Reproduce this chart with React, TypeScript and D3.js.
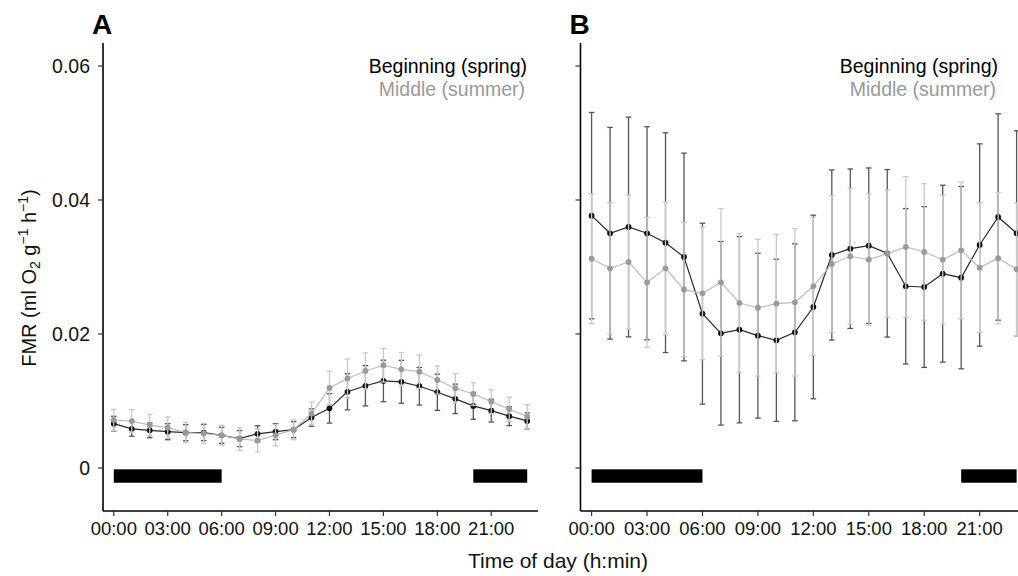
import React from "react";
import * as d3 from "d3";

const hours = [0, 1, 2, 3, 4, 5, 6, 7, 8, 9, 10, 11, 12, 13, 14, 15, 16, 17, 18, 19, 20, 21, 22, 23];
const xTicks = [0, 3, 6, 9, 12, 15, 18, 21];
const xTickLabels = ["00:00", "03:00", "06:00", "09:00", "12:00", "15:00", "18:00", "21:00"];
const yTicks = [0, 0.02, 0.04, 0.06];
const yTickLabels = ["0", "0.02", "0.04", "0.06"];

const springA = [0.00662, 0.00585, 0.00562, 0.00542, 0.00527, 0.00528, 0.00488, 0.00438, 0.0051, 0.00542, 0.00572, 0.00753, 0.0089, 0.01137, 0.01227, 0.01299, 0.01286, 0.0122, 0.0113, 0.01032, 0.00927, 0.00856, 0.00773, 0.00703];
const seSpringA = [0.0011, 0.0011, 0.0011, 0.0012, 0.0012, 0.0012, 0.0012, 0.0012, 0.0012, 0.0012, 0.0012, 0.0013, 0.0022, 0.0027, 0.003, 0.0031, 0.0032, 0.0028, 0.0027, 0.0022, 0.002, 0.0017, 0.0014, 0.0012];
const summerA = [0.00716, 0.007, 0.0064, 0.00602, 0.0053, 0.00515, 0.00488, 0.00433, 0.0041, 0.0049, 0.00572, 0.00813, 0.01195, 0.01336, 0.01448, 0.01533, 0.01473, 0.01438, 0.01313, 0.0119, 0.01104, 0.0099, 0.00876, 0.00766];
const seSummerA = [0.0016, 0.0017, 0.0016, 0.0016, 0.0015, 0.0015, 0.0015, 0.0017, 0.0017, 0.0016, 0.0015, 0.0017, 0.0025, 0.0029, 0.0027, 0.0025, 0.0025, 0.0025, 0.0021, 0.0022, 0.0017, 0.0018, 0.0018, 0.0018];

const springB = [0.03766, 0.03503, 0.03597, 0.03503, 0.03363, 0.03149, 0.02303, 0.0201, 0.02064, 0.01975, 0.01906, 0.02025, 0.02403, 0.03179, 0.03273, 0.03318, 0.03204, 0.02712, 0.02701, 0.029, 0.0284, 0.03328, 0.03746, 0.03503];
const seSpringB = [0.0154, 0.0158, 0.0164, 0.0159, 0.0164, 0.0155, 0.0135, 0.0137, 0.0139, 0.0123, 0.0121, 0.0132, 0.0137, 0.0127, 0.0119, 0.0116, 0.0125, 0.0116, 0.012, 0.0132, 0.0136, 0.0151, 0.0154, 0.0153];
const summerB = [0.03124, 0.0298, 0.03075, 0.02771, 0.0298, 0.02662, 0.02607, 0.02771, 0.02463, 0.02393, 0.02453, 0.02473, 0.02712, 0.03045, 0.0316, 0.03109, 0.03199, 0.03299, 0.03224, 0.03109, 0.03249, 0.0299, 0.0313, 0.02966];
const seSummerB = [0.0097, 0.0098, 0.01, 0.0097, 0.0099, 0.01, 0.0099, 0.011, 0.0104, 0.0102, 0.0103, 0.011, 0.0103, 0.0102, 0.0101, 0.0098, 0.0095, 0.0105, 0.0102, 0.0096, 0.0102, 0.0097, 0.0098, 0.0099];

const nightStart = [0, 20];
const nightEnd = [6, 23];
const nightBarTop = -0.0002;
const nightBarBottom = -0.0022;

const seriesNames = ["Beginning (spring)", "Middle (summer)"];

const FONT = "'Liberation Sans', Arial, Helvetica, sans-serif";

const y = d3.scaleLinear().domain([-0.00642, 0.06343]).range([511, 43]);

type PanelProps = {
  x: d3.ScaleLinear<number, number>;
  spring: number[];
  seSpring: number[];
  summer: number[];
  seSummer: number[];
  letter: string;
  showYLabels: boolean;
  legendRight: number;
};

function Series({ x, vals, se, lineColor, pointColor, barColor }: any) {
  const line = d3
    .line<number>()
    .x((_, i) => x(hours[i]))
    .y((d) => y(d));
  const cap = 2.8;
  return (
    <g>
      {vals.map((v: number, i: number) => {
        const cx = x(hours[i]);
        const y1 = y(v + se[i]);
        const y2 = y(v - se[i]);
        return (
          <g key={"e" + i} stroke={barColor} strokeWidth={1.3}>
            <line x1={cx} x2={cx} y1={y1} y2={y2} />
            <line x1={cx - cap} x2={cx + cap} y1={y1} y2={y1} />
            <line x1={cx - cap} x2={cx + cap} y1={y2} y2={y2} />
          </g>
        );
      })}
      <path d={line(vals) || ""} fill="none" stroke={lineColor} strokeWidth={1.2} />
      {vals.map((v: number, i: number) => (
        <circle key={"p" + i} cx={x(hours[i])} cy={y(v)} r={2.9} fill={pointColor} />
      ))}
    </g>
  );
}

function Panel({ x, spring, seSpring, summer, seSummer, letter, showYLabels, legendRight }: PanelProps) {
  const [x0, x1] = x.range();
  const [yb, yt] = y.range();
  return (
    <g>
      {nightStart.map((s, i) => (
        <rect
          key={"n" + i}
          x={x(s)}
          width={x(nightEnd[i]) - x(s)}
          y={y(nightBarTop)}
          height={y(nightBarBottom) - y(nightBarTop)}
          fill="#000"
        />
      ))}
      <Series x={x} vals={spring} se={seSpring} lineColor="#2a2a2a" pointColor="#111" barColor="#555" />
      <Series x={x} vals={summer} se={seSummer} lineColor="#bdbdbd" pointColor="#9a9a9a" barColor="#c9c9c9" />
      {/* x axis */}
      <line x1={x0} x2={x1} y1={yb} y2={yb} stroke="#000" strokeWidth={1.6} />
      {xTicks.map((t, i) => (
        <g key={"xt" + i}>
          <line x1={x(t)} x2={x(t)} y1={yb} y2={yb + 5} stroke="#333" strokeWidth={1.2} />
          <text x={x(t)} y={534.5} textAnchor="middle" fontSize={18.5} fontFamily={FONT} fill="#111">
            {xTickLabels[i]}
          </text>
        </g>
      ))}
      {/* y axis */}
      <line x1={x0} x2={x0} y1={yt} y2={yb} stroke="#000" strokeWidth={1.6} />
      {yTicks.map((t, i) => (
        <g key={"yt" + i}>
          <line x1={x0 - 5} x2={x0} y1={y(t)} y2={y(t)} stroke="#333" strokeWidth={1.2} />
          {showYLabels && (
            <text x={x0 - 13} y={y(t) + 7} textAnchor="end" fontSize={19.5} fontFamily={FONT} fill="#111">
              {yTickLabels[i]}
            </text>
          )}
        </g>
      ))}
      <text x={x0 - 11} y={34} fontSize={28} fontWeight="bold" fontFamily={FONT} fill="#000">
        {letter}
      </text>
      <text x={legendRight} y={73} textAnchor="end" fontSize={19.5} fontFamily={FONT} fill="#000">
        {seriesNames[0]}
      </text>
      <text x={legendRight - 2} y={96} textAnchor="end" fontSize={19.5} fontFamily={FONT} fill="#9a9a9a">
        {seriesNames[1]}
      </text>
    </g>
  );
}

export default function App() {
  const xA = d3.scaleLinear().domain([-0.6, 23.6]).range([103, 538]);
  const xB = d3.scaleLinear().domain([-0.6, 23.6]).range([580.5, 1027.7]);
  return (
    <svg
      width={1018}
      height={576}
      style={{ position: "absolute", left: 0, top: 0, background: "#fff" }}
      fontFamily={FONT}
    >
      <rect x={0} y={0} width={1018} height={576} fill="#fff" />
      <Panel x={xA} spring={springA} seSpring={seSpringA} summer={summerA} seSummer={seSummerA} letter="A" showYLabels={true} legendRight={527} />
      <Panel x={xB} spring={springB} seSpring={seSpringB} summer={summerB} seSummer={seSummerB} letter="B" showYLabels={false} legendRight={998} />
      <text x={558} y={568} textAnchor="middle" fontSize={21} fontFamily={FONT} fill="#111">
        Time of day (h:min)
      </text>
      <text transform="translate(36,278) rotate(-90)" textAnchor="middle" fontSize={20} fontFamily={FONT} fill="#111">
        FMR (ml O
        <tspan fontSize={14} dy={4}>2</tspan>
        <tspan dy={-4}> g</tspan>
        <tspan fontSize={14} dy={-8}>−1</tspan>
        <tspan dy={8}> h</tspan>
        <tspan fontSize={14} dy={-8}>−1</tspan>
        <tspan dy={8}>)</tspan>
      </text>
    </svg>
  );
}
